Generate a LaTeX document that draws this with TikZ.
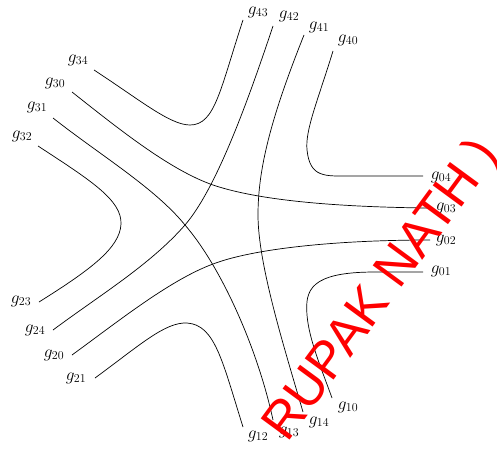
\documentclass[tikz,border=0pt]{standalone}
\usepackage{fontspec}
\newfontfamily\wmfont{Liberation Sans}
\begin{document}
\begin{tikzpicture}[x=1pt,y=-1pt,
  lbl/.style={font=\LARGE, inner sep=0pt},
  strand/.style={line width=0.7pt, black},
  wm/.style={font=\wmfont\fontsize{52}{60}\selectfont, text=red, inner sep=0pt}]
\clip (0,0) rectangle (497,450);
% end points
\coordinate (e43) at (243,20);  \coordinate (e42) at (273,26);
\coordinate (e41) at (304,35);  \coordinate (e40) at (333,51);
\coordinate (e34) at (94,70);   \coordinate (e30) at (72,92);
\coordinate (e31) at (53,118);  \coordinate (e32) at (38,146);
\coordinate (e23) at (39,302);  \coordinate (e24) at (53,330);
\coordinate (e20) at (72,355);  \coordinate (e21) at (95,378);
\coordinate (e12) at (243,427); \coordinate (e13) at (273,420);
\coordinate (e14) at (303,412); \coordinate (e10) at (332,398);
\coordinate (e04) at (423,176); \coordinate (e03) at (428,208);
\coordinate (e02) at (430,240); \coordinate (e01) at (423,272);
% labels
\node[lbl] (g43) at (258,12) {$g_{43}$};
\node[lbl] (g42) at (289,16) {$g_{42}$};
\node[lbl] (g41) at (319,27) {$g_{41}$};
\node[lbl] (g40) at (348,40) {$g_{40}$};
\node[lbl] (g34) at (78,60) {$g_{34}$};
\node[lbl] (g30) at (55,83) {$g_{30}$};
\node[lbl] (g31) at (37,107) {$g_{31}$};
\node[lbl] (g32) at (22,136) {$g_{32}$};
\node[lbl] (g23) at (21,301) {$g_{23}$};
\node[lbl] (g24) at (35,330) {$g_{24}$};
\node[lbl] (g20) at (54,355) {$g_{20}$};
\node[lbl] (g21) at (76,378) {$g_{21}$};
\node[lbl] (g12) at (258,436) {$g_{12}$};
\node[lbl] (g13) at (289,432) {$g_{13}$};
\node[lbl] (g14) at (319,422) {$g_{14}$};
\node[lbl] (g10) at (348,407) {$g_{10}$};
\node[lbl] (g04) at (441,177) {$g_{04}$};
\node[lbl] (g03) at (446,208) {$g_{03}$};
\node[lbl] (g02) at (446,240) {$g_{02}$};
\node[lbl] (g01) at (441,271) {$g_{01}$};
% adjacent turns
\draw[strand] (e43) .. controls (220,90) and (215,125) .. (190,125)
  .. controls (170,125) and (140,100) .. (e34);
\draw[strand] (e40) .. controls (318,100) and (305,130) .. (307,150)
  .. controls (310,178) and (325,176) .. (350,176) -- (e04);
\draw[strand] (e01) -- (375,272) .. controls (310,272) and (305,290) .. (307,315)
  .. controls (309,340) and (322,370) .. (e10);
\draw[strand] (e32) .. controls (90,180) and (122,200) .. (121,224)
  .. controls (120,248) and (90,270) .. (e23);
\draw[strand] (e21) .. controls (140,345) and (165,322) .. (187,323)
  .. controls (215,325) and (222,360) .. (e12);
% long strands
\draw[strand] (e30) .. controls (120,130) and (170,170) .. (213,185)
  .. controls (260,201) and (340,207) .. (e03);
\draw[strand] (e20) .. controls (120,320) and (170,280) .. (213,264)
  .. controls (255,248) and (340,240) .. (e02);
\draw[strand] (e42) .. controls (245,110) and (215,190) .. (185,225)
  .. controls (150,265) and (100,295) .. (e24);
\draw[strand] (e31) .. controls (100,155) and (155,188) .. (185,225)
  .. controls (222,268) and (258,350) .. (e13);
\draw[strand] (e41) .. controls (270,120) and (258,170) .. (258,215)
  .. controls (258,265) and (285,350) .. (e14);
% watermark
\node[wm, rotate=53.7] (mark) at (383,291) {RUPAK NATH )};
\end{tikzpicture}
\end{document}
